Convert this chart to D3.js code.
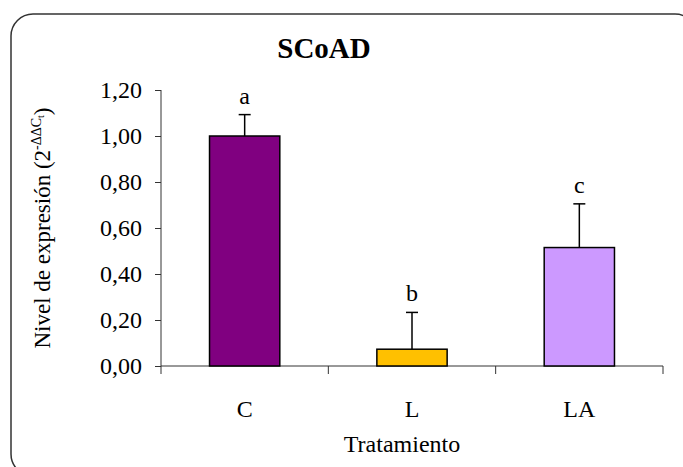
<!DOCTYPE html>
<html>
<head>
<meta charset="utf-8">
<script src="https://cdn.jsdelivr.net/npm/d3@7"></script>
</head>
<body style="margin:0">
<div id="chart"></div>
<script>
// data
const categories = ["C", "L", "LA"];
const means = [1.00, 0.073, 0.515];
const errors = [0.093, 0.16, 0.19];
const letters = ["a", "b", "c"];
const colors = ["#800080", "#FFC000", "#CC99FF"];
const yTicks = [0, 0.2, 0.4, 0.6, 0.8, 1.0, 1.2];

const W = 683, H = 467;
const plot = {left: 161, right: 663, top: 90, bottom: 366};

const svg = d3.select("#chart").append("svg")
    .attr("width", W)
    .attr("height", H)
    .style("font-family", '"Liberation Serif", "Times New Roman", Tinos, serif');

// outer rounded frame (runs off the right and bottom edge)
svg.append("rect")
    .attr("x", 11).attr("y", 14)
    .attr("width", 686).attr("height", 462)
    .attr("rx", 22).attr("ry", 22)
    .attr("fill", "none")
    .attr("stroke", "#333")
    .attr("stroke-width", 1.5);

const x = d3.scaleBand()
    .domain(categories)
    .range([plot.left, plot.right])
    .padding(0);

const y = d3.scaleLinear()
    .domain([0, 1.2])
    .range([plot.bottom, plot.top]);

const barW = x.bandwidth() * 0.42;

// y axis
const yAxis = svg.append("g")
    .attr("transform", `translate(${plot.left},0)`)
    .call(d3.axisLeft(y)
        .tickValues(yTicks)
        .tickSize(6)
        .tickPadding(13)
        .tickFormat(d => d3.format(".2f")(d).replace(".", ",")));
yAxis.attr("font-family", null).attr("font-size", null);
yAxis.select(".domain").attr("stroke", "#333").attr("d", `M0,${plot.top}V${plot.bottom + 8}`);
yAxis.selectAll(".tick line").attr("stroke", "#333");
yAxis.selectAll(".tick text")
    .attr("font-size", 24)
    .attr("fill", "#000");

// x axis line and tick marks at band boundaries
const bounds = categories.map(c => x(c)).concat([plot.right]);
svg.append("line")
    .attr("x1", plot.left).attr("x2", plot.right)
    .attr("y1", y(0)).attr("y2", y(0))
    .attr("stroke", "#333");
svg.selectAll(".xtick")
    .data(bounds.slice(1))
    .join("line")
    .attr("class", "xtick")
    .attr("x1", d => d).attr("x2", d => d)
    .attr("y1", y(0)).attr("y2", y(0) + 8)
    .attr("stroke", "#333");

// category labels
svg.selectAll(".cat")
    .data(categories)
    .join("text")
    .attr("class", "cat")
    .attr("x", d => x(d) + x.bandwidth() / 2)
    .attr("y", 417)
    .attr("text-anchor", "middle")
    .attr("font-size", 24)
    .text(d => d);

// bars
svg.selectAll(".bar")
    .data(categories)
    .join("rect")
    .attr("class", "bar")
    .attr("x", d => x(d) + (x.bandwidth() - barW) / 2)
    .attr("y", (d, i) => y(means[i]))
    .attr("width", barW)
    .attr("height", (d, i) => y(0) - y(means[i]))
    .attr("fill", (d, i) => colors[i])
    .attr("stroke", "#000")
    .attr("stroke-width", 1.5);

// error bars (upper half only)
const cx = d => x(d) + x.bandwidth() / 2;
svg.selectAll(".err")
    .data(categories)
    .join("line")
    .attr("class", "err")
    .attr("x1", cx).attr("x2", cx)
    .attr("y1", (d, i) => y(means[i]))
    .attr("y2", (d, i) => y(means[i] + errors[i]))
    .attr("stroke", "#000")
    .attr("stroke-width", 1.5);
svg.selectAll(".cap")
    .data(categories)
    .join("line")
    .attr("class", "cap")
    .attr("x1", d => cx(d) - 6).attr("x2", d => cx(d) + 6)
    .attr("y1", (d, i) => y(means[i] + errors[i]))
    .attr("y2", (d, i) => y(means[i] + errors[i]))
    .attr("stroke", "#000")
    .attr("stroke-width", 1.5);

// significance letters
svg.selectAll(".sig")
    .data(categories)
    .join("text")
    .attr("class", "sig")
    .attr("x", cx)
    .attr("y", (d, i) => y(means[i] + errors[i]) - 11)
    .attr("text-anchor", "middle")
    .attr("font-size", 24)
    .text((d, i) => letters[i]);

// title
svg.append("text")
    .attr("x", 324).attr("y", 58)
    .attr("text-anchor", "middle")
    .attr("font-size", 29)
    .attr("font-weight", "bold")
    .text("SCoAD");

// axis titles
svg.append("text")
    .attr("x", (plot.left + plot.right) / 2 - 10).attr("y", 452)
    .attr("text-anchor", "middle")
    .attr("font-size", 24)
    .text("Tratamiento");

const ylab = svg.append("text")
    .attr("transform", "translate(50,228) rotate(-90)")
    .attr("text-anchor", "middle")
    .attr("font-size", 23);
ylab.append("tspan").text("Nivel de expresión (2");
ylab.append("tspan").attr("dy", -9).attr("font-size", 14).text("-ΔΔC");
ylab.append("tspan").attr("dy", 3).attr("font-size", 10).text("t");
ylab.append("tspan").attr("dy", 6).attr("font-size", 23).text(")");
</script>
</body>
</html>
